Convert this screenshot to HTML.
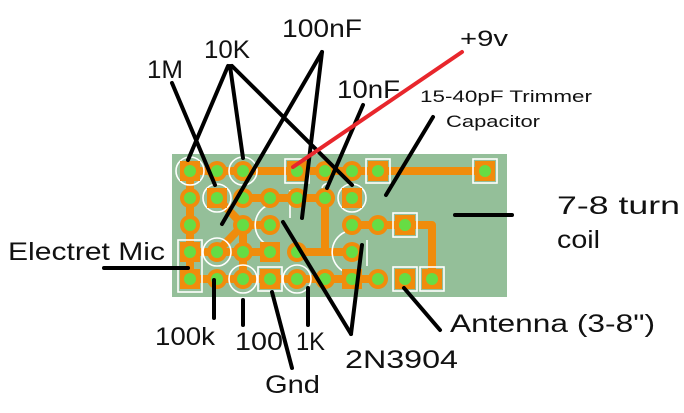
<!DOCTYPE html>
<html><head><style>
html,body{margin:0;padding:0;background:#fff;width:684px;height:413px;overflow:hidden}
text{font-family:"Liberation Sans",sans-serif;fill:#111}
</style></head><body>
<svg width="684" height="413" viewBox="0 0 684 413" xmlns="http://www.w3.org/2000/svg">
<rect x="171" y="153" width="337" height="145" fill="#94bf99" stroke="#fff" stroke-width="2"/>
<g stroke="#f08c0c" stroke-width="8" fill="none" stroke-linecap="round" stroke-linejoin="round">
<path d="M190 171H485"/>
<path d="M190 171V279"/>
<path d="M217 198L243 225L217 252"/>
<path d="M243 198H325"/>
<path d="M243 225H270"/>
<path d="M325 198V252"/>
<path d="M297 252H352"/>
<path d="M190 252H270"/>
<path d="M190 279H378"/>
<path d="M352 225H432V279"/>
<path d="M243 225V279"/>
</g>
<g fill="none" stroke="#fff" stroke-width="1.6">
<circle cx="190" cy="171" r="14"/><circle cx="243" cy="171" r="14"/>
<circle cx="217" cy="198" r="14"/><circle cx="352" cy="198" r="14"/>
<circle cx="217" cy="252" r="14"/><circle cx="243" cy="279" r="14"/><circle cx="297" cy="279" r="14"/>
<rect x="285" y="159" width="24" height="24"/><rect x="366" y="159" width="24" height="24"/><rect x="473" y="159" width="24" height="24"/>
<rect x="393" y="213" width="24" height="24"/>
<rect x="178" y="240" width="24" height="52"/>
<rect x="258" y="267" width="24" height="24"/>
<rect x="393" y="267" width="24" height="24"/><rect x="420" y="267" width="24" height="24"/>
<path d="M268 205A22 22 0 0 0 268 245"/>
<path d="M345 232A22 22 0 0 0 345 272"/>
<path d="M290 190V218"/><path d="M367 240V266"/>
<path d="M322 188A6 6 0 0 1 330 184"/>
</g>
<g fill="#f08c0c">
<rect x="180" y="161" width="20" height="20"/><rect x="287" y="161" width="20" height="20"/><rect x="368" y="161" width="20" height="20"/><rect x="475" y="161" width="20" height="20"/>
<rect x="207" y="188" width="20" height="20"/><rect x="342" y="188" width="20" height="20"/>
<rect x="395" y="215" width="20" height="20"/>
<rect x="180" y="242" width="20" height="20"/><rect x="260" y="242" width="20" height="20"/>
<rect x="180" y="269" width="20" height="20"/><rect x="260" y="269" width="20" height="20"/><rect x="342" y="269" width="20" height="20"/><rect x="395" y="269" width="20" height="20"/><rect x="422" y="269" width="20" height="20"/>
<circle cx="217" cy="171" r="10"/><circle cx="325" cy="171" r="10"/><circle cx="352" cy="171" r="10"/><circle cx="243" cy="171" r="10"/>
<circle cx="190" cy="198" r="10"/><circle cx="243" cy="198" r="10"/><circle cx="270" cy="198" r="10"/><circle cx="297" cy="198" r="10"/><circle cx="325" cy="198" r="10"/>
<circle cx="190" cy="225" r="10"/><circle cx="243" cy="225" r="10"/><circle cx="270" cy="225" r="10"/><circle cx="352" cy="225" r="10"/><circle cx="378" cy="225" r="10"/>
<circle cx="217" cy="252" r="10"/><circle cx="243" cy="252" r="10"/><circle cx="297" cy="252" r="10"/><circle cx="352" cy="252" r="10"/>
<circle cx="217" cy="279" r="10"/><circle cx="243" cy="279" r="10"/><circle cx="297" cy="279" r="10"/><circle cx="325" cy="279" r="10"/><circle cx="378" cy="279" r="10"/>
</g>
<g fill="#66dd44">
<circle cx="190" cy="171" r="6"/><circle cx="217" cy="171" r="6"/><circle cx="243" cy="171" r="6"/><circle cx="297" cy="171" r="6"/><circle cx="325" cy="171" r="6"/><circle cx="352" cy="171" r="6"/><circle cx="378" cy="171" r="6"/><circle cx="485" cy="171" r="6"/>
<circle cx="190" cy="198" r="6"/><circle cx="217" cy="198" r="6"/><circle cx="243" cy="198" r="6"/><circle cx="270" cy="198" r="6"/><circle cx="297" cy="198" r="6"/><circle cx="325" cy="198" r="6"/><circle cx="352" cy="198" r="6"/>
<circle cx="190" cy="225" r="6"/><circle cx="243" cy="225" r="6"/><circle cx="270" cy="225" r="6"/><circle cx="352" cy="225" r="6"/><circle cx="378" cy="225" r="6"/><circle cx="405" cy="225" r="6"/>
<circle cx="190" cy="252" r="6"/><circle cx="217" cy="252" r="6"/><circle cx="243" cy="252" r="6"/><circle cx="270" cy="252" r="6"/><circle cx="297" cy="252" r="6"/><circle cx="352" cy="252" r="6"/>
<circle cx="190" cy="279" r="6"/><circle cx="217" cy="279" r="6"/><circle cx="243" cy="279" r="6"/><circle cx="270" cy="279" r="6"/><circle cx="297" cy="279" r="6"/><circle cx="325" cy="279" r="6"/><circle cx="352" cy="279" r="6"/><circle cx="378" cy="279" r="6"/><circle cx="405" cy="279" r="6"/><circle cx="432" cy="279" r="6"/>
</g>
<g stroke="#000" stroke-width="4" stroke-linecap="round">
<line x1="172" y1="83" x2="215" y2="185"/>
<line x1="228" y1="66" x2="188" y2="160"/>
<line x1="230" y1="66" x2="243" y2="158"/>
<line x1="232" y1="66" x2="352" y2="185"/>
<line x1="322" y1="52" x2="222" y2="224"/>
<line x1="322" y1="52" x2="302" y2="218"/>
<line x1="363" y1="105" x2="327" y2="188"/>
<line x1="433" y1="117" x2="386" y2="195"/>
<line x1="455" y1="215" x2="512" y2="215"/>
<line x1="104" y1="268" x2="188" y2="268"/>
<line x1="214" y1="280" x2="214" y2="318"/>
<line x1="243" y1="300" x2="243" y2="325"/>
<line x1="272" y1="292" x2="292" y2="368"/>
<line x1="308" y1="288" x2="308" y2="325"/>
<line x1="283" y1="222" x2="351" y2="334"/>
<line x1="362" y1="245" x2="351" y2="334"/>
<line x1="404" y1="288" x2="440" y2="330"/>
</g>
<line x1="462" y1="52" x2="293" y2="167" stroke="#e8262c" stroke-width="4" stroke-linecap="round"/>
<g font-size="25" lengthAdjust="spacingAndGlyphs">
<text x="147" y="78" textLength="36" lengthAdjust="spacingAndGlyphs">1M</text>
<text x="204" y="58" textLength="46" lengthAdjust="spacingAndGlyphs">10K</text>
<text x="282" y="37" textLength="80" lengthAdjust="spacingAndGlyphs">100nF</text>
<text x="460" y="46" font-size="22" textLength="48" lengthAdjust="spacingAndGlyphs">+9v</text>
<text x="337" y="98" textLength="63" lengthAdjust="spacingAndGlyphs">10nF</text>
<text x="557" y="214" textLength="123" lengthAdjust="spacingAndGlyphs">7-8 turn</text>
<text x="557" y="248" textLength="43" lengthAdjust="spacingAndGlyphs">coil</text>
<text x="8" y="260" textLength="157" lengthAdjust="spacingAndGlyphs">Electret Mic</text>
<text x="155" y="345" textLength="60" lengthAdjust="spacingAndGlyphs">100k</text>
<text x="235" y="350" textLength="48" lengthAdjust="spacingAndGlyphs">100</text>
<text x="296" y="350" textLength="29" lengthAdjust="spacingAndGlyphs">1K</text>
<text x="265" y="393" textLength="55" lengthAdjust="spacingAndGlyphs">Gnd</text>
<text x="345" y="368" textLength="113" lengthAdjust="spacingAndGlyphs">2N3904</text>
<text x="450" y="332" textLength="205" lengthAdjust="spacingAndGlyphs">Antenna (3-8")</text>
</g>
<text x="420" y="102" font-size="17" textLength="172" lengthAdjust="spacingAndGlyphs">15-40pF Trimmer</text>
<text x="446" y="127" font-size="17" textLength="94" lengthAdjust="spacingAndGlyphs">Capacitor</text>
</svg>
</body></html>
